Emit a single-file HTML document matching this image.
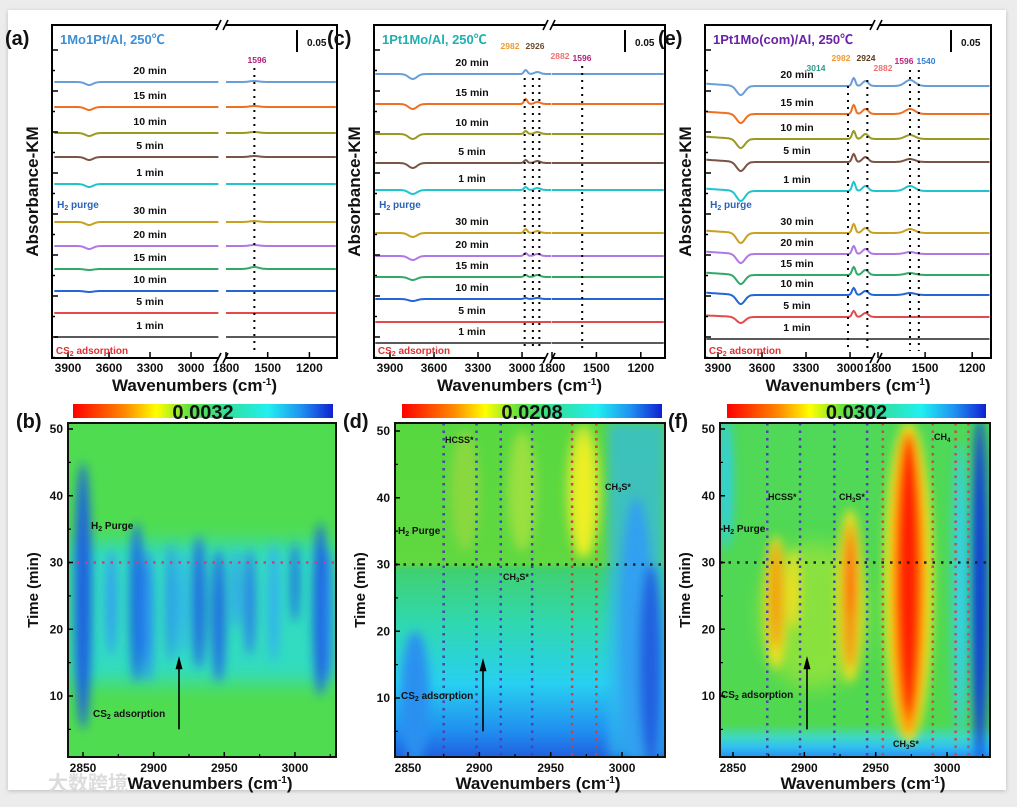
<!DOCTYPE html>
<html><head><meta charset="utf-8">
<style>
html,body{margin:0;padding:0;background:#ececec;}
#wrap{position:relative;width:1017px;height:807px;overflow:hidden;}
svg{position:absolute;left:0;top:0;font-family:"Liberation Sans","Noto Sans CJK SC",sans-serif;}
text{font-weight:bold;}
</style></head>
<body>
<div id="wrap">
<svg id="fig" width="1017" height="807" viewBox="0 0 1017 807">
<defs>
<linearGradient id="cmap" x1="0" x2="1" y1="0" y2="0">
<stop offset="0" stop-color="#ff0000"/><stop offset="0.2" stop-color="#ff8a00"/><stop offset="0.32" stop-color="#ffff00"/>
<stop offset="0.45" stop-color="#60e040"/><stop offset="0.6" stop-color="#30e0a0"/><stop offset="0.75" stop-color="#20f0f0"/>
<stop offset="0.88" stop-color="#2090f0"/><stop offset="1" stop-color="#1020d0"/></linearGradient>
<filter id="blur" x="-50%" y="-50%" width="200%" height="200%"><feGaussianBlur stdDeviation="5"/></filter>
<filter id="blur2" x="-50%" y="-50%" width="200%" height="200%"><feGaussianBlur stdDeviation="10"/></filter>
<filter id="shadow"><feDropShadow dx="0" dy="1" stdDeviation="2" flood-color="#999" flood-opacity="0.6"/></filter>
</defs>
<rect x="8" y="10" width="998" height="780" fill="#fff" filter="url(#shadow)"/>
<g id="layer"></g>
</svg>
</div>
<script>
// ---------- top panel data ----------
const traceLabels = ["20 min","15 min","10 min","5 min","1 min","30 min","20 min","15 min","10 min","5 min","1 min"];
const traceColors = ["#6a9ed6","#f07022","#9a9a22","#7a5444","#22c4cc","#c8a022","#b078e4","#34a868","#2466d4","#e44a4a","#5a5a5a"];
// baselines (y, px)
const baseA = [82,107,133,157,184,222,246,269,291,313,337];
const baseC = [74,104,134,163,190,233,256,277,299,322,343];
const baseE = [86,114,139,162,191,233,254,275,295,317,339];
// feature amplitudes (px, positive = up)
const dipA = [3,3,3,3,3,3,3,1,1,0,0];
const dipC = [5,5,5,5,4,4,4,3,2,0,0];
const dipE = [9,9,9,9,10,10,9,9,9,6,0];
const p2982A = [0,0,0,0,0,0,0,0,0,0,0];
const p2982C = [4,5,3,3,3,4,3,2,1,0,0];
const p2982E = [8,9,8,8,9,9,8,8,7,6,0];
const p2882C = [2,2,2,2,2,2,2,2,1,0,0];
const p2882E = [5,5,5,5,5,5,5,5,4,4,0];
const p1596A = [1,1,1,1,0,1,1,2,0,0,0];
const p1596E = [6,5,4,3,5,4,2,2,2,0,0];
const tiltE = [3,3,3,3,3,3,3,3,3,2,0];

const NS="http://www.w3.org/2000/svg";
const layer=document.getElementById('layer');
function el(tag,attrs,parent){const e=document.createElementNS(NS,tag);for(const k in attrs)e.setAttribute(k,attrs[k]);(parent||layer).appendChild(e);return e;}
function txt(x,y,s,size,color,anchor,parent,extra){const t=el('text',Object.assign({x:x,y:y,'font-size':size,fill:color,'text-anchor':anchor||'start'},extra||{}),parent);t.innerHTML=s;return t;}

function topPanel(cfg){
  const g=el('g',{});
  
  
  const L=cfg.L,R=cfg.R,T=25,B=358;
  const xl=w=>cfg.x3900+(3900-w)*cfg.k1;
  const xr=w=>cfg.x1800+(1800-w)*cfg.k2;
  for(let i=0;i<traceLabels.length;i++){
    const y0=cfg.base[i];
    const f=(w)=>{
      let v=0;
      v-=cfg.dip[i]*Math.exp(-Math.pow((w-3745)/40,2));
      v+=cfg.p2982[i]*Math.exp(-Math.pow((w-2975)/16,2));
      v+=cfg.p2882[i]*Math.exp(-Math.pow((w-2895)/28,2));
      v+=cfg.p1596[i]*Math.exp(-Math.pow((w-1596)/45,2));
      v+=cfg.tilt[i]*Math.max(0,(w-3750)/300);
      return y0-v;
    };
    let d='';
    for(let w=4000;w>=cfg.wEnd;w-=5){const x=xl(w);if(x<L+1)continue;d+=(d?'L':'M')+x.toFixed(1)+','+f(w).toFixed(1);}
    let d2='';
    for(let w=1800;w>=1000;w-=5){const x=xr(w);if(x>R-1)break;d2+=(d2?'L':'M')+x.toFixed(1)+','+f(w).toFixed(1);}
    const p=el('path',{d:d+d2,fill:'none',stroke:traceColors[i],'stroke-width':2},g);
    
    
    const lb=txt(cfg.labX,y0-8,traceLabels[i],10.5,'#111','middle',g);
    
    
  }
  cfg.marks.forEach(m=>{
    const x=m.side==='l'?xl(m.w):xr(m.w);
    el('line',{x1:x,x2:x,y1:m.y1,y2:343+8,stroke:'#000','stroke-width':2,'stroke-dasharray':'2,5'},g);
  });
  cfg.annos.forEach(a=>txt(a.x,a.y,a.s,8.5,a.c,'middle',g));
  el('rect',{x:L,y:T,width:R-L,height:B-T,fill:'none',stroke:'#000','stroke-width':2},g);
  const bx=cfg.brk;
  el('rect',{x:bx-4,y:T-4,width:8,height:8,fill:'#fff'},g);
  el('rect',{x:bx-4,y:B-4,width:8,height:8,fill:'#fff'},g);
  [[T],[B]].forEach(([yy])=>{el('line',{x1:bx-6,y1:yy+5,x2:bx-1,y2:yy-5,stroke:'#000','stroke-width':1.6},g);el('line',{x1:bx+1,y1:yy+5,x2:bx+6,y2:yy-5,stroke:'#000','stroke-width':1.6},g);});
  for(let y=T+25;y<B;y+=20.5){const big=Math.round((y-T-25)/20.5)%2===0;el('line',{x1:L,x2:L+(big?6:3),y1:y,y2:y,stroke:'#000','stroke-width':1.5},g);}
  [3900,3600,3300,3000].forEach(w=>{const x=xl(w);el('line',{x1:x,x2:x,y1:B,y2:B-6,stroke:'#000','stroke-width':1.5},g);txt(x,B+14,w,12,'#111','middle',g);});
  [1800,1500,1200].forEach(w=>{const x=xr(w);el('line',{x1:x,x2:x,y1:B,y2:B-6,stroke:'#000','stroke-width':1.5},g);txt(x,B+14,w,12,'#111','middle',g);});
  txt((L+R)/2,B+33,'Wavenumbers (cm<tspan dy="-6" font-size="10">-1</tspan><tspan dy="6">)</tspan>',17,'#111','middle',g);
  txt(L-14,(T+B)/2,'Absorbance-KM',17,'#111','middle',g,{transform:`rotate(-90 ${L-14} ${(T+B)/2})`});
  txt(L-47,45,cfg.panel,20,'#111','start',g);
  txt(L+8,44,cfg.title,13,cfg.titleColor,'start',g);
  el('line',{x1:R-40,x2:R-40,y1:30,y2:52,stroke:'#000','stroke-width':2},g);
  txt(R-30,46,'0.05',10,'#111','start',g);
  txt(L+26,208,'H<tspan font-size="7" dy="2">2</tspan><tspan dy="-2"> purge</tspan>',10,'#2a62b8','middle',g);
  txt(L+40,354,'CS<tspan font-size="7" dy="2">2</tspan><tspan dy="-2"> adsorption</tspan>',10,'#e03030','middle',g);
}

topPanel({name:'panel-a',panel:'(a)',title:'1Mo1Pt/Al, 250℃',titleColor:'#3b8fd8',L:52,R:337,x3900:68,k1:0.1367,x1800:226,k2:0.139,wEnd:2800,brk:222,labX:150,
  base:baseA,dip:dipA,p2982:p2982A,p2882:p2982A,p1596:p1596A,tilt:p2982A,
  marks:[{side:'r',w:1596,y1:68}],annos:[{x:257,y:63,s:'1596',c:'#b0207a'}]});
topPanel({name:'panel-c',panel:'(c)',title:'1Pt1Mo/Al, 250℃',titleColor:'#20b0b0',L:374,R:665,x3900:390,k1:0.1467,x1800:552,k2:0.148,wEnd:2800,brk:549,labX:472,
  base:baseC,dip:dipC,p2982:p2982C,p2882:p2882C,p1596:p2982A,tilt:p2982A,
  marks:[{side:'l',w:2982,y1:78},{side:'l',w:2926,y1:78},{side:'l',w:2882,y1:78},{side:'r',w:1596,y1:66}],
  annos:[{x:510,y:49,s:'2982',c:'#f09a30'},{x:535,y:49,s:'2926',c:'#6a4a2a'},{x:560,y:59,s:'2882',c:'#f07070'},{x:582,y:61,s:'1596',c:'#b0207a'}]});
topPanel({name:'panel-e',panel:'(e)',title:'1Pt1Mo(com)/Al, 250℃',titleColor:'#6a22a8',L:705,R:991,x3900:718,k1:0.1467,x1800:878,k2:0.157,wEnd:2790,brk:876,labX:797,
  base:baseE,dip:dipE,p2982:p2982E,p2882:p2882E,p1596:p1596E,tilt:tiltE,
  marks:[{side:'l',w:3014,y1:86},{side:'l',w:2882,y1:80},{side:'r',w:1596,y1:70},{side:'r',w:1540,y1:70}],
  annos:[{x:816,y:71,s:'3014',c:'#2a9a8a'},{x:841,y:61,s:'2982',c:'#f09a30'},{x:866,y:61,s:'2924',c:'#5a3a1a'},{x:883,y:71,s:'2882',c:'#f07070'},{x:904,y:64,s:'1596',c:'#c0207a'},{x:926,y:64,s:'1540',c:'#3080d0'}]});

// ---------- heatmap data ----------
const blobsB_wn   = [2850,2870,2888,2896,2912,2920,2932,2946,2958,2968,2985,3000,3018,3024];
const blobsB_t    = [25,24,24,22,24,24,24,22,26,24,24,27,23,22];
const blobsB_dw   = [6,4,5,4,3,3,5,5,3,4,4,3,5,3];
const blobsB_dt   = [20,8,12,10,9,8,10,10,6,8,9,6,13,10];
const blobsB_col  = ["#1a60e0","#30a0f0","#1a70e0","#2a90f0","#2a90f0","#30b0f0","#2070e0","#2070e0","#30a0f0","#2a80e8","#30b0f0","#1a70e0","#1a60e0","#2a90f0"];

const blobsD_wn  = [2973,2973,2930,2890,3010,3020,2855];
const blobsD_t   = [41,40,41,41,20,15,10];
const blobsD_dw  = [12,6,10,10,12,8,10];
const blobsD_dt  = [10,9,9,9,20,15,10];
const blobsD_col = ["#c8e830","#f0f020","#9ae040","#8ad840","#30a0f0","#2060e0","#2a90f0"];

const blobsF_wn  = [2973,2973,2973,2880,2880,2893,2932,2932,2933,3023,3009,2845];
const blobsF_t   = [27,27,28,24,25,26,25,25,28,26,26,42];
const blobsF_dw  = [17,12,8,8,5,4,9,5,3,6,5,5];
const blobsF_dt  = [24,23,21,10,8,6,13,11,6,26,22,10];
const blobsF_col = ["#f0f020","#ff8a00","#ff1a00","#f0e020","#f0a010","#f0e020","#f0e020","#f09010","#ff6010","#1040d8","#30d0f0","#30d0e0"];

function heatPanel(cfg){
  const g=el('g',{});
  
  
  const L=cfg.L,R=cfg.R,T=423,B=757;
  const xw=w=>cfg.x2850+(w-2850)*cfg.k;
  const yt=t=>cfg.y50+(50-t)*6.675;
  const cid='clip-'+cfg.name;
  const cp=el('clipPath',{id:cid},g);el('rect',{x:L,y:T,width:R-L,height:B-T},cp);
  const inner=el('g',{'clip-path':`url(#${cid})`},g);
  cfg.bg(inner,L,R,T,B,xw,yt);
  const bg=el('g',{filter:'url(#blur)'},inner);
  for(let i=0;i<cfg.wn.length;i++){
    const e=el('ellipse',{cx:xw(cfg.wn[i]),cy:yt(cfg.t[i]),rx:cfg.dw[i]*cfg.k,ry:cfg.dt[i]*6.675,fill:cfg.col[i]},bg);
    
    
  }
  el('line',{x1:L,x2:R,y1:yt(30),y2:yt(30),stroke:cfg.hcol,'stroke-width':2.5,'stroke-dasharray':'2.5,6'},g);
  (cfg.vlines||[]).forEach(v=>el('line',{x1:xw(v.w),x2:xw(v.w),y1:T,y2:B,stroke:v.c,'stroke-width':2.5,'stroke-dasharray':'2.5,5'},g));
  el('rect',{x:L,y:T,width:R-L,height:B-T,fill:'none',stroke:'#111','stroke-width':2},g);
  [10,20,30,40,50].forEach(t=>{el('line',{x1:L,x2:L+5,y1:yt(t),y2:yt(t),stroke:'#000','stroke-width':1.5},g);txt(L-5,yt(t)+4,t,12,'#111','end',g);});
  [5,15,25,35,45].forEach(t=>el('line',{x1:L,x2:L+3,y1:yt(t),y2:yt(t),stroke:'#000','stroke-width':1.2},g));
  [2850,2900,2950,3000].forEach(w=>{el('line',{x1:xw(w),x2:xw(w),y1:B,y2:B-5,stroke:'#000','stroke-width':1.5},g);txt(xw(w),B+15,w,12,'#111','middle',g);});
  [2875,2925,2975,3025].forEach(w=>el('line',{x1:xw(w),x2:xw(w),y1:B,y2:B-3,stroke:'#000','stroke-width':1.2},g));
  txt((L+R)/2+8,B+32,'Wavenumbers (cm<tspan dy="-6" font-size="10">-1</tspan><tspan dy="6">)</tspan>',17,'#111','middle',g);
  txt(L-30,(T+B)/2,'Time (min)',15,'#111','middle',g,{transform:`rotate(-90 ${L-30} ${(T+B)/2})`});
  txt(L-52,428,cfg.panel,20,'#111','start',g);
  const cb=el('rect',{x:cfg.cbL,y:404,width:cfg.cbR-cfg.cbL,height:14,fill:'url(#cmap)'},g);
  
  
  txt((cfg.cbL+cfg.cbR)/2,419,cfg.max,20,'#111','middle',g);
  cfg.labels.forEach(a=>txt(a.x,a.y,a.s,a.sz||10,'#111','start',g));
  el('line',{x1:cfg.arrX,x2:cfg.arrX,y1:yt(5),y2:yt(15),stroke:'#000','stroke-width':1.6},g);
  el('path',{d:`M${cfg.arrX-3.5},${yt(14)} L${cfg.arrX},${yt(16)} L${cfg.arrX+3.5},${yt(14)} Z`,fill:'#000'},g);
}

heatPanel({name:'panel-b',panel:'(b)',L:68,R:336,x2850:83,k:1.413,y50:429,max:'0.0032',cbL:73,cbR:333,hcol:'#d04070',arrX:179,
  wn:blobsB_wn,t:blobsB_t,dw:blobsB_dw,dt:blobsB_dt,col:blobsB_col,
  bg:(g,L,R,T,B,xw,yt)=>{el('rect',{x:L,y:T,width:R-L,height:B-T,fill:'#50dc50'},g);el('rect',{x:L,y:yt(33),width:R-L,height:yt(12)-yt(33),fill:'#30dcc0',filter:'url(#blur2)'},g);},
  labels:[{x:91,y:529,s:'H<tspan font-size="7" dy="2">2</tspan><tspan dy="-2"> Purge</tspan>'},{x:93,y:717,s:'CS<tspan font-size="7" dy="2">2</tspan><tspan dy="-2"> adsorption</tspan>'}]});
heatPanel({name:'panel-d',panel:'(d)',L:395,R:665,x2850:408,k:1.427,y50:431,max:'0.0208',cbL:402,cbR:662,hcol:'#222',arrX:483,
  wn:blobsD_wn,t:blobsD_t,dw:blobsD_dw,dt:blobsD_dt,col:blobsD_col,
  bg:(g,L,R,T,B,xw,yt)=>{
    const lg=el('linearGradient',{id:'gd',x1:0,x2:0,y1:0,y2:1},g);
    [[0,'#58d840'],[0.42,'#60d840'],[0.44,'#40d070'],[0.6,'#30d8b0'],[0.78,'#28d0f0'],[0.92,'#2090f0'],[1,'#2060e0']].forEach(s=>el('stop',{offset:s[0],'stop-color':s[1]},lg));
    el('rect',{x:L,y:T,width:R-L,height:B-T,fill:'url(#gd)'},g);
    el('rect',{x:xw(2990),y:T,width:R-xw(2990),height:B-T,fill:'#30b8f0',opacity:0.7,filter:'url(#blur)'},g);},
  vlines:[{w:2875,c:'#5040b0'},{w:2898,c:'#5040b0'},{w:2915,c:'#5040c0'},{w:2937,c:'#5040b0'},{w:2965,c:'#d04040'},{w:2982,c:'#d04040'}],
  labels:[{x:445,y:443,s:'HCSS*',sz:9},{x:398,y:534,s:'H<tspan font-size="7" dy="2">2</tspan><tspan dy="-2"> Purge</tspan>'},{x:503,y:580,s:'CH<tspan font-size="6" dy="2">3</tspan><tspan dy="-2">S*</tspan>',sz:9},{x:605,y:490,s:'CH<tspan font-size="6" dy="2">3</tspan><tspan dy="-2">S*</tspan>',sz:9},{x:401,y:699,s:'CS<tspan font-size="7" dy="2">2</tspan><tspan dy="-2"> adsorption</tspan>'}]});
heatPanel({name:'panel-f',panel:'(f)',L:720,R:990,x2850:733,k:1.427,y50:429,max:'0.0302',cbL:727,cbR:986,hcol:'#222',arrX:807,
  wn:blobsF_wn,t:blobsF_t,dw:blobsF_dw,dt:blobsF_dt,col:blobsF_col,
  bg:(g,L,R,T,B,xw,yt)=>{
    const lg=el('linearGradient',{id:'gf',x1:0,x2:0,y1:0,y2:1},g);
    [[0,'#50d858'],[0.9,'#50d850'],[0.94,'#40d8c0'],[0.97,'#30c0f0'],[1,'#2a90f0']].forEach(s=>el('stop',{offset:s[0],'stop-color':s[1]},lg));
    el('rect',{x:L,y:T,width:R-L,height:B-T,fill:'url(#gf)'},g);
    el('ellipse',{cx:xw(2907),cy:yt(22),rx:(xw(2945)-xw(2870))/2,ry:(yt(10)-yt(32))/2,fill:'#b0e830',opacity:0.6,filter:'url(#blur2)'},g);},
  vlines:[{w:2874,c:'#5040b0'},{w:2897,c:'#5040b0'},{w:2921,c:'#5040c0'},{w:2944,c:'#5040b0'},{w:2955,c:'#c05050'},{w:2990,c:'#c05050'},{w:3006,c:'#c05050'},{w:3015,c:'#c05050'}],
  labels:[{x:768,y:500,s:'HCSS*',sz:9},{x:839,y:500,s:'CH<tspan font-size="6" dy="2">3</tspan><tspan dy="-2">S*</tspan>',sz:9},{x:723,y:532,s:'H<tspan font-size="7" dy="2">2</tspan><tspan dy="-2"> Purge</tspan>'},{x:721,y:698,s:'CS<tspan font-size="7" dy="2">2</tspan><tspan dy="-2"> adsorption</tspan>'},{x:893,y:747,s:'CH<tspan font-size="6" dy="2">3</tspan><tspan dy="-2">S*</tspan>',sz:9},{x:934,y:440,s:'CH<tspan font-size="6" dy="2">4</tspan>',sz:9}]});

const wm=txt(48,790,'大数跨境',20,'#dcdcdc','start');


</script>
</body></html>
